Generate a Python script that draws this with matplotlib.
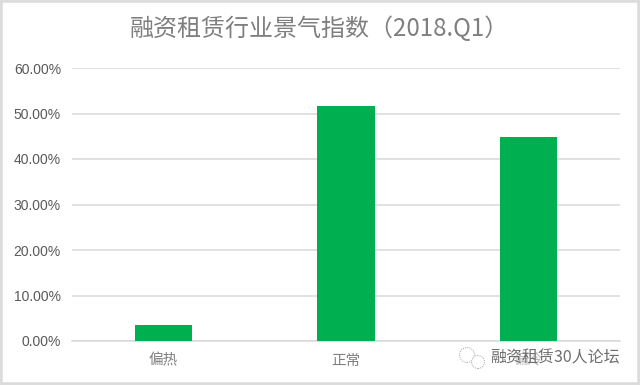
import matplotlib
matplotlib.use("Agg")
import matplotlib.pyplot as plt
from matplotlib.patches import Rectangle, Circle

plt.rcParams['font.family'] = ['Noto Sans CJK SC', 'DejaVu Sans']

# data
categories = ["偏热", "正常", "偏冷"]
values = [3.5, 51.6, 44.9]
y_ticks = [0, 10, 20, 30, 40, 50, 60]
y_labels = ["0.00%", "10.00%", "20.00%", "30.00%", "40.00%", "50.00%", "60.00%"]

W, H = 640, 385
fig = plt.figure(figsize=(W / 100, H / 100), dpi=100)
ax = fig.add_axes([72 / W, 1 - 341 / H, (620 - 72) / W, (341 - 68) / H])

ax.bar(range(len(values)), values, width=0.315, color="#00B050", zorder=3)
ax.set_xlim(-0.5, 2.5)
ax.set_ylim(0, 60)
ax.set_yticks(y_ticks)
ax.set_yticklabels(y_labels, fontsize=10, color="#595959", family=["Liberation Sans"])
ax.set_xticks(range(len(categories)))
ax.set_xticklabels(categories, fontsize=10.5, color="#7f7f7f")
ax.tick_params(length=0)
ax.tick_params(axis="y", pad=8)
ax.tick_params(axis="x", pad=9)
ax.grid(axis="y", color="#d9d9d9", lw=1.1, zorder=0)
ax.set_axisbelow(True)
for s in ["top", "right", "left"]:
    ax.spines[s].set_visible(False)
ax.spines["bottom"].set_color("#d9d9d9")
ax.spines["bottom"].set_linewidth(1.1)

fig.text(319 / W, 1 - 29 / H, "融资租赁行业景气指数（2018.Q1）", fontsize=17.3,
         color="#7f7f7f", ha="center", va="center")

# watermark on top of the third label
fig.add_artist(Rectangle((490 / W, 1 - 372 / H), 130 / W, 24 / H, transform=fig.transFigure,
                         fc="white", ec="none", alpha=0.45))
fig.text(490 / W, 1 - 358 / H, "融资租赁30人论坛", fontsize=11.5, color="#6e6e6e",
         ha="left", va="center")
for cx, cy, r in [(467, 355, 7.5), (478, 362, 6.5)]:
    fig.add_artist(Circle((cx, H - cy), r, transform=None, fc="white", ec="#b5b5b5",
                          lw=0.8, ls=(0, (1, 1))))

# image border
fig.add_artist(Rectangle((0, 0), 1, 1, transform=fig.transFigure, fill=False,
                         ec="#dcdcdc", lw=4))

fig.savefig("out.png", dpi=100)
